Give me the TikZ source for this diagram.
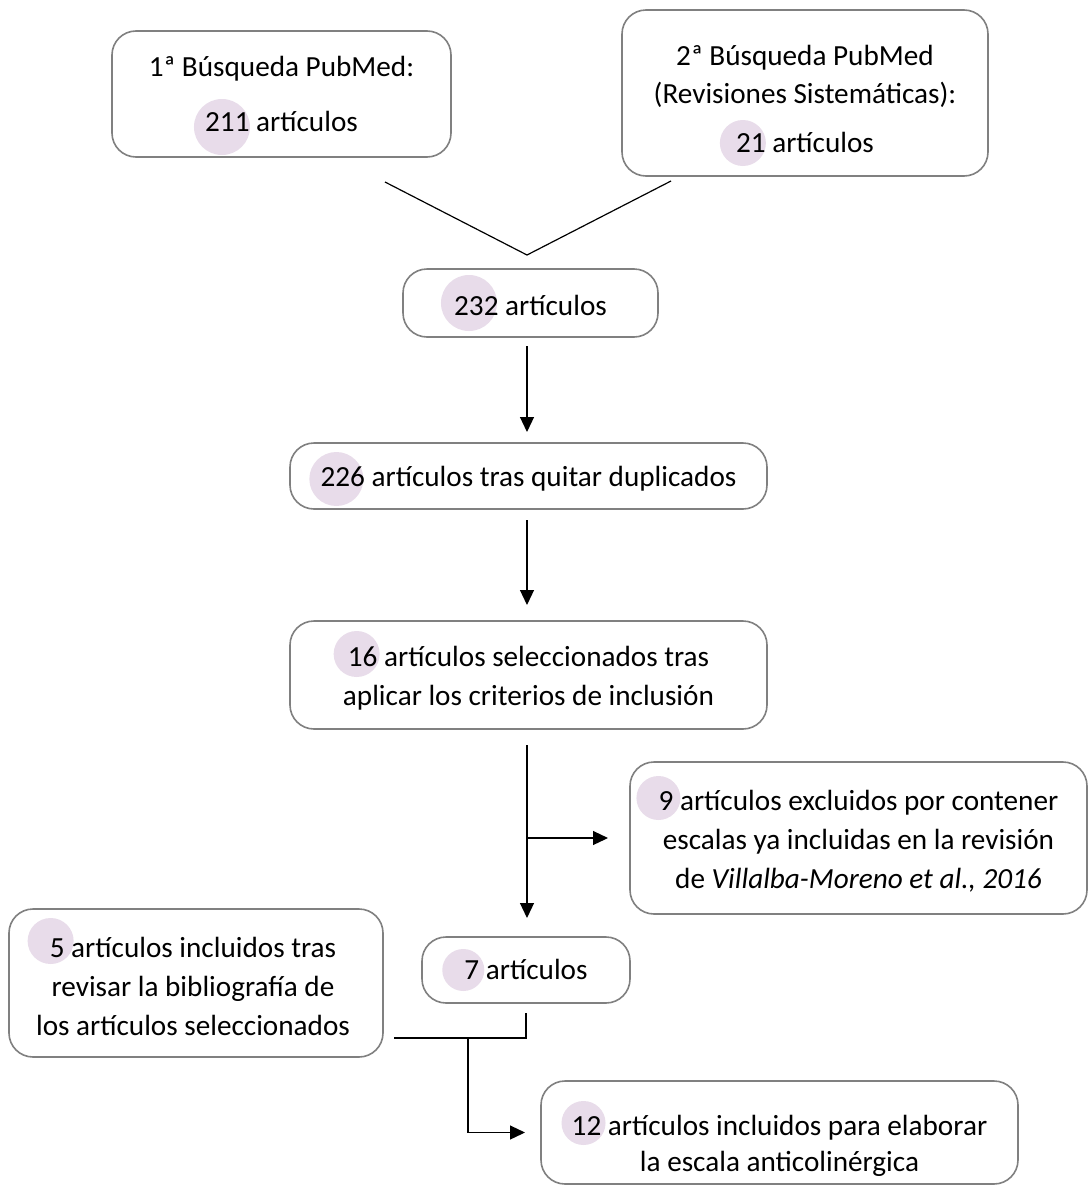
\documentclass[tikz,border=0pt]{standalone}
\usepackage{fontspec}
\setmainfont{Carlito}
\usetikzlibrary{arrows.meta,backgrounds}
\definecolor{boxgray}{HTML}{808080}
\definecolor{hlcol}{HTML}{E8DCEA}
\tikzset{
  box/.style={draw=boxgray, line width=1.6pt, rounded corners=24pt, inner sep=0pt, outer sep=0pt},
  txt/.style={font=\fontsize{29.2}{36}\selectfont, inner sep=0pt, anchor=base},
  conn/.style={line width=1.2pt, black},
  arr/.style={conn, -{Triangle[length=15pt,width=14pt]}},
  hl/.style={fill=hlcol}
}
\begin{document}
\begin{tikzpicture}[x=1pt,y=-1pt]
\useasboundingbox (0,0) rectangle (1089,1186);
% boxes
\node[box, minimum width=339pt, minimum height=126pt] (A) at (281.5,94) {};
\node[box, minimum width=366pt, minimum height=166pt] (B) at (805,93) {};
\node[box, minimum width=255pt, minimum height=68pt] (C) at (530.5,303) {};
\node[box, minimum width=477pt, minimum height=66pt] (D) at (528.5,476) {};
\node[box, minimum width=477pt, minimum height=108pt] (E) at (528.5,675) {};
\node[box, minimum width=457pt, minimum height=152pt] (F) at (858.5,838) {};
\node[box, minimum width=208pt, minimum height=66pt] (G) at (526,970) {};
\node[box, minimum width=374pt, minimum height=148pt] (H) at (196,983) {};
\node[box, minimum width=477pt, minimum height=103pt] (I) at (779.5,1132.5) {};
% texts
\node[txt] (a1) at (281.5,76) {1ª Búsqueda PubMed:};
\node[txt] (a2) at (281.5,131) {211 artículos};
\node[txt] (b1) at (805,65) {2ª Búsqueda PubMed};
\node[txt] (b2) at (805,103) {(Revisiones Sistemáticas):};
\node[txt] (b3) at (805,152) {21 artículos};
\node[txt] (c1) at (530.5,315) {232 artículos};
\node[txt] (d1) at (528.5,486) {226 artículos tras quitar duplicados};
\node[txt] (e1) at (528.5,666) {16 artículos seleccionados tras};
\node[txt] (e2) at (528.5,705) {aplicar los criterios de inclusión};
\node[txt] (f1) at (858.5,810) {9 artículos excluidos por contener};
\node[txt] (f2) at (858.5,849) {escalas ya incluidas en la revisión};
\node[txt] (f3) at (858.5,888) {de \textit{Villalba-Moreno et al., 2016}};
\node[txt] (g1) at (526,979) {7 artículos};
\node[txt] (h1) at (193,957) {5 artículos incluidos tras};
\node[txt] (h2) at (193,996) {revisar la bibliografía de};
\node[txt] (h3) at (193,1035) {los artículos seleccionados};
\node[txt] (i1) at (779.5,1135) {12 artículos incluidos para elaborar};
\node[txt] (i2) at (779.5,1171) {la escala anticolinérgica};
% highlight circles behind numbers
\begin{pgfonlayer}{background}
\fill[white] (0,0) rectangle (1089,1186);
\fill[hl] ([shift={(17,-4)}]a2.base west) circle[radius=28];
\fill[hl] ([shift={(7,-9)}]b3.base west) circle[radius=23];
\fill[hl] ([shift={(15,-12)}]c1.base west) circle[radius=28];
\fill[hl] ([shift={(16,-7)}]d1.base west) circle[radius=27];
\fill[hl] ([shift={(9,-12)}]e1.base west) circle[radius=23];
\fill[hl] ([shift={(0,-12)}]f1.base west) circle[radius=22];
\fill[hl] ([shift={(-1,-9)}]g1.base west) circle[radius=21];
\fill[hl] ([shift={(1,-16)}]h1.base west) circle[radius=23];
\fill[hl] ([shift={(12,-12)}]i1.base west) circle[radius=22];
\end{pgfonlayer}
% connectors
\coordinate (vL) at (385,182);
\coordinate (vM) at (527,255);
\coordinate (vR) at (671,181);
\coordinate (trunk) at (527,0);
\coordinate (j1) at (526,1038);
\coordinate (j2) at (468,1038);
\draw[conn] (vL) -- (vM) -- (vR);
\draw[arr, shorten <=9pt, shorten >=11pt] (C.south -| trunk) -- (D.north -| trunk);
\draw[arr, shorten <=11pt, shorten >=16pt] (D.south -| trunk) -- (E.north -| trunk);
\draw[arr, shorten <=16pt, shorten >=19pt] (E.south -| trunk) -- (G.north -| trunk);
\draw[arr, shorten >=22pt] (F.west -| trunk) -- (F.west);
\draw[conn, shorten <=10pt] (G.south) |- ([xshift=11pt]H.east |- j1);
\draw[arr, shorten >=16pt] (j2) |- (I.west);
\end{tikzpicture}
\end{document}
